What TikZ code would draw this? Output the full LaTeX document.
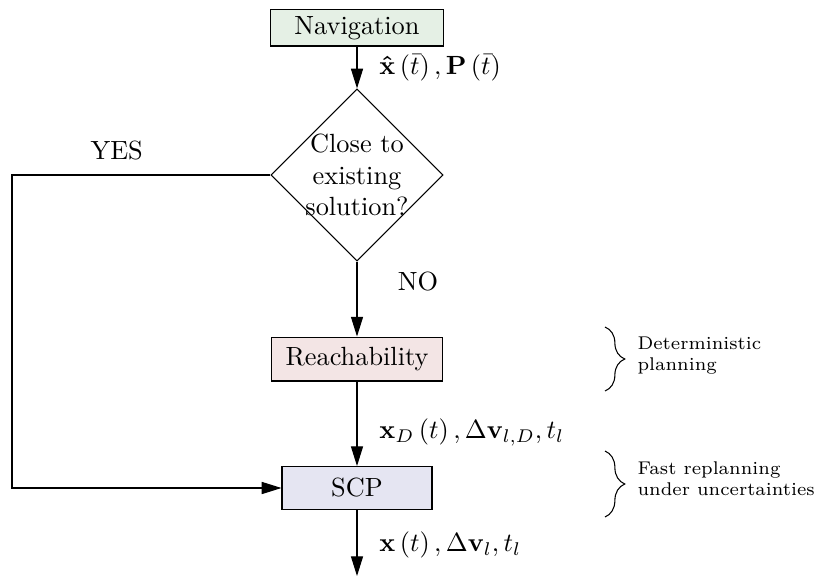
\documentclass[tikz,border=0pt]{standalone}
\usepackage{tikz}
\usetikzlibrary{arrows.meta,shapes.geometric,positioning,calc,decorations.pathreplacing}
\usepackage{xcolor}
\definecolor{navfill}{RGB}{229,240,229}
\definecolor{reachfill}{RGB}{243,229,229}
\definecolor{scpfill}{RGB}{229,229,242}
\tikzset{
  block/.style={draw,rectangle,inner sep=2pt},
  decision/.style={draw,diamond,aspect=1,inner sep=0pt,minimum size=65.4pt},
  flow/.style={-{Triangle[length=7.5pt,width=4.6pt]},line width=0.4pt},
  note/.style={align=left,font=\scriptsize,inner sep=0pt},
  planbrace/.style={decorate,decoration={brace,amplitude=7.5pt}}
}

\begin{document}
\begin{tikzpicture}[x=0.38pt,y=-0.38pt]
	\useasboundingbox (0,0) rectangle (817,578);
	\node[block,fill=navfill,minimum width=65.4pt,minimum height=13.7pt] (nav) at (357,28) {Navigation};
	\node[decision] (close) at (357,175) {};
	\node[align=center,inner sep=0pt] (closetxt) at (close) {Close to\\existing\\solution?};
	\node[block,fill=reachfill,minimum width=65pt,minimum height=16.7pt] (reach) at (357,359) {Reachability};
	\node[block,fill=scpfill,minimum width=57pt,minimum height=16.3pt] (scp) at (357,488) {SCP};
	\coordinate (yescorner) at (12,175);
	\coordinate (out) at (357,576);
	\draw[flow] (nav) -- node[right=5pt] {$\mathbf{\hat{x}}\left(\bar{t}\right),\mathbf{P}\left(\bar{t}\right)$} (close);
	\draw[flow] (close) -- node[right=12pt,pos=0.27] {NO} (reach);
	\draw[flow] (reach) -- node[right=5pt,pos=0.6] {$\mathbf{x}_D\left(t\right),\Delta\mathbf{v}_{l,D},t_l$} (scp);
	\draw[flow] (close.west) -- node[above=2pt,pos=0.595] {YES} (yescorner) |- (scp.west);
	\draw[flow] (scp) -- node[right=5pt,pos=0.53] {$\mathbf{x}\left(t\right),\Delta\mathbf{v}_l,t_l$} (out);
	% planning notes
	\node[note,anchor=west] (detnote) at (637,356) {Deterministic\\planning};
	\node[note,anchor=west] (fastnote) at (637,479) {Fast replanning\\under uncertainties};
	\draw[planbrace] (605,327) -- (605,391);
	\draw[planbrace] (605,451) -- (605,517);
\end{tikzpicture}
\end{document}
